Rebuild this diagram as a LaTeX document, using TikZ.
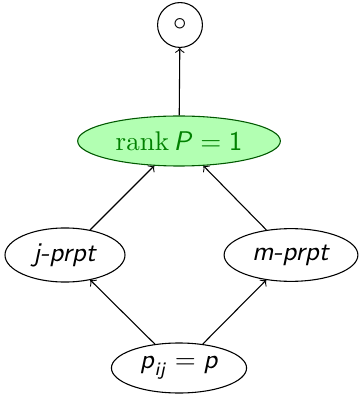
\documentclass[tikz,border=0pt]{standalone}
\usepackage{amsmath}
\usetikzlibrary{shapes.geometric}
\newcommand{\si}[1]{\textsf{\textit{#1}}}
\begin{document}
\begin{tikzpicture}[x=0.37pt,y=-0.37pt,
  oval/.style={draw,ellipse,inner sep=0pt,minimum height=18.5pt},
  conn/.style={->,line width=0.4pt}]
\useasboundingbox (0,0) rectangle (359,394);
\node[draw,circle,minimum size=16.6pt,inner sep=0pt] (top) at (180,25) {$\circ$};
\node[oval,fill=green!30,draw=green!35!black,text=green!50!black,minimum width=75pt] (rank) at (179,141) {$\text{rank}\,\text{\si{P}}=\text{\textsf{1}}$};
\node[oval,minimum width=44.4pt,minimum height=20pt] (j) at (65,255) {\si{j-prpt}};
\node[oval,minimum width=49.5pt,minimum height=19.5pt] (m) at (291,255) {\si{m-prpt}};
\node[oval,minimum width=50pt] (p) at (179,368) {$\text{\si{p}}_{\text{\si{ij}}}=\text{\si{p}}$};
\draw[conn] (rank) -- (top);
\draw[conn] (j) -- (rank);
\draw[conn] (m) -- (rank);
\draw[conn] (p) -- (j);
\draw[conn] (p) -- (m);
\end{tikzpicture}
\end{document}
